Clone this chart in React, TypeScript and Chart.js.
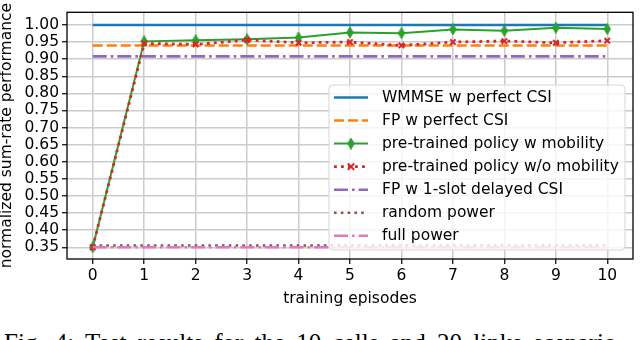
import React, { useEffect, useRef } from "react";
import { Chart, registerables } from "chart.js";

Chart.register(...registerables);

// ---- data ----
const episodes = [0, 1, 2, 3, 4, 5, 6, 7, 8, 9, 10];
const xTicks = [0, 1, 2, 3, 4, 5, 6, 7, 8, 9, 10];
const yTicks = [0.35, 0.4, 0.45, 0.5, 0.55, 0.6, 0.65, 0.7, 0.75, 0.8, 0.85, 0.9, 0.95, 1.0];

const wmmsePerfect = [1.0, 1.0, 1.0, 1.0, 1.0, 1.0, 1.0, 1.0, 1.0, 1.0, 1.0];
const fpPerfect = [0.94, 0.94, 0.94, 0.94, 0.94, 0.94, 0.94, 0.94, 0.94, 0.94, 0.94];
const pretrainedMobility = [0.35, 0.952, 0.955, 0.958, 0.963, 0.978, 0.976, 0.987, 0.983, 0.992, 0.988];
const pretrainedNoMobility = [0.35, 0.946, 0.943, 0.956, 0.948, 0.95, 0.94, 0.95, 0.953, 0.948, 0.954];
const fpDelayed = [0.908, 0.908, 0.908, 0.908, 0.908, 0.908, 0.908, 0.908, 0.908, 0.908, 0.908];
const randomPower = [0.355, 0.355, 0.355, 0.355, 0.355, 0.355, 0.355, 0.355, 0.355, 0.355, 0.355];
const fullPower = [0.35, 0.35, 0.35, 0.35, 0.35, 0.35, 0.35, 0.35, 0.35, 0.35, 0.35];

const labels = [
  "WMMSE w perfect CSI",
  "FP w perfect CSI",
  "pre-trained policy w mobility",
  "pre-trained policy w/o mobility",
  "FP w 1-slot delayed CSI",
  "random power",
  "full power",
];

const FONT = "'DejaVu Sans', sans-serif";
const FS = 15.5;

function makeDiamond(color: string): HTMLCanvasElement {
  const c = document.createElement("canvas");
  c.width = 8;
  c.height = 12;
  const g = c.getContext("2d")!;
  g.beginPath();
  g.moveTo(4, 0.5);
  g.lineTo(7.2, 6);
  g.lineTo(4, 11.5);
  g.lineTo(0.8, 6);
  g.closePath();
  g.fillStyle = color;
  g.fill();
  g.lineWidth = 1;
  g.strokeStyle = color;
  g.stroke();
  return c;
}

const toXY = (arr: number[]) => arr.map((v, i) => ({ x: episodes[i], y: v }));

const framePlugin = {
  id: "frame",
  afterDatasetsDraw(chart: any) {
    const { ctx, chartArea: a } = chart;
    ctx.save();
    ctx.strokeStyle = "#000";
    ctx.lineWidth = 1.3;
    ctx.strokeRect(a.left, a.top, a.right - a.left, a.bottom - a.top);
    ctx.restore();
  },
};

const legendPlugin = {
  id: "mplLegend",
  afterDraw(chart: any) {
    const { ctx, chartArea: a } = chart;
    const w = 296;
    const h = 165;
    const x0 = a.right - 8 - w;
    const y0 = a.bottom - 9 - h;
    ctx.save();
    ctx.globalAlpha = 0.8;
    ctx.fillStyle = "#ffffff";
    ctx.beginPath();
    (ctx as any).roundRect(x0, y0, w, h, 4);
    ctx.fill();
    ctx.globalAlpha = 1;
    ctx.strokeStyle = "#d6d6d6";
    ctx.lineWidth = 1;
    ctx.stroke();
    const dsets = chart.data.datasets;
    const rowH = 23.05;
    for (let i = 0; i < dsets.length; i++) {
      const d = dsets[i];
      const cy = y0 + 12.5 + i * rowH;
      const lx0 = x0 + 5;
      const lx1 = x0 + 39;
      ctx.save();
      ctx.strokeStyle = d.borderColor;
      ctx.lineWidth = d.borderWidth;
      ctx.setLineDash(d.borderDash || []);
      ctx.beginPath();
      ctx.moveTo(lx0, cy);
      ctx.lineTo(lx1, cy);
      ctx.stroke();
      ctx.restore();
      const mx = (lx0 + lx1) / 2;
      if (d.pointStyle instanceof HTMLCanvasElement) {
        const img = d.pointStyle as HTMLCanvasElement;
        ctx.drawImage(img, mx - img.width / 2, cy - img.height / 2);
      } else if (d.pointStyle === "crossRot") {
        ctx.save();
        ctx.strokeStyle = d.borderColor;
        ctx.lineWidth = 2;
        const r = 3.2;
        ctx.beginPath();
        ctx.moveTo(mx - r, cy - r);
        ctx.lineTo(mx + r, cy + r);
        ctx.moveTo(mx - r, cy + r);
        ctx.lineTo(mx + r, cy - r);
        ctx.stroke();
        ctx.restore();
      }
      ctx.fillStyle = "#000";
      ctx.font = `${FS}px ${FONT}`;
      ctx.textBaseline = "middle";
      ctx.textAlign = "left";
      ctx.fillText(labels[i], x0 + 53, cy + 0.5);
    }
    ctx.restore();
  },
};

export default function App() {
  const ref = useRef<HTMLCanvasElement | null>(null);

  useEffect(() => {
    if (!ref.current) return;
    const diamond = makeDiamond("#2ca02c");
    const chart = new Chart(ref.current, {
      type: "line",
      data: {
        datasets: [
          {
            label: labels[0],
            data: toXY(wmmsePerfect),
            borderColor: "#1f77b4",
            borderWidth: 2.6,
            pointRadius: 0,
            order: 6,
          },
          {
            label: labels[1],
            data: toXY(fpPerfect),
            borderColor: "#ff7f0e",
            borderWidth: 2.6,
            borderDash: [10, 4],
            pointRadius: 0,
            order: 5,
          },
          {
            label: labels[2],
            data: toXY(pretrainedMobility),
            borderColor: "#2ca02c",
            borderWidth: 2,
            pointStyle: diamond,
            pointRadius: 5,
            order: 4,
          },
          {
            label: labels[3],
            data: toXY(pretrainedNoMobility),
            borderColor: "#d62728",
            backgroundColor: "#d62728",
            borderWidth: 2.8,
            borderDash: [2.8, 4.2],
            pointStyle: "crossRot",
            pointRadius: 3.8,
            pointBorderWidth: 2,
            order: 3,
          },
          {
            label: labels[4],
            data: toXY(fpDelayed),
            borderColor: "#9467bd",
            borderWidth: 2.6,
            borderDash: [14, 4, 2.6, 4],
            pointRadius: 0,
            order: 2,
          },
          {
            label: labels[5],
            data: toXY(randomPower),
            borderColor: "#8c564b",
            borderWidth: 2.6,
            borderDash: [2.6, 4.2],
            pointRadius: 0,
            order: 1,
          },
          {
            label: labels[6],
            data: toXY(fullPower),
            borderColor: "#e377c2",
            borderWidth: 2.6,
            borderDash: [14, 4, 2.6, 4],
            pointRadius: 0,
            order: 0,
          },
        ] as any,
      },
      options: {
        animation: false,
        responsive: false,
        devicePixelRatio: 1,
        layout: { padding: { left: 0, right: 3, top: 7, bottom: 2 } },
        plugins: {
          legend: { display: false },
          tooltip: { enabled: false },
        },
        elements: { line: { tension: 0 } },
        scales: {
          x: {
            type: "linear",
            min: -0.5,
            max: 10.5,
            afterFit: (s: any) => {
              s.height = 49;
            },
            afterBuildTicks: (s: any) => {
              s.ticks = xTicks.map((v) => ({ value: v }));
            },
            ticks: {
              font: { family: FONT, size: FS },
              color: "#000",
              padding: 3,
              maxRotation: 0,
              autoSkip: false,
              callback: (v: any) => String(v),
            },
            grid: {
              color: "#cccccc",
              lineWidth: 1.5,
              tickColor: "#000",
              tickLength: 5,
              tickWidth: 1.2,
            },
            border: { display: false },
            title: {
              display: true,
              text: "training episodes",
              font: { family: FONT, size: FS },
              color: "#000",
              padding: 0,
            },
          },
          y: {
            type: "linear",
            min: 0.3157,
            max: 1.037,
            afterFit: (s: any) => {
              s.width = 67;
            },
            afterBuildTicks: (s: any) => {
              s.ticks = yTicks.map((v) => ({ value: v }));
            },
            ticks: {
              font: { family: FONT, size: FS },
              color: "#000",
              padding: 3,
              autoSkip: false,
              callback: (v: any) => Number(v).toFixed(2),
            },
            grid: {
              color: "#cccccc",
              lineWidth: 1.5,
              tickColor: "#000",
              tickLength: 5,
              tickWidth: 1.2,
            },
            border: { display: false },
            title: {
              display: true,
              text: "normalized sum-rate performance",
              font: { family: FONT, size: FS },
              color: "#000",
              padding: { top: -2, bottom: 0 },
            },
          },
        },
      },
      plugins: [framePlugin, legendPlugin],
    });
    return () => chart.destroy();
  }, []);

  return (
    <div
      style={{
        position: "absolute",
        left: 0,
        top: 0,
        width: 640,
        height: 340,
        overflow: "hidden",
        background: "#fff",
      }}
    >
      <canvas ref={ref} width={640} height={310} style={{ display: "block", width: 640, height: 310 }} />
      <div
        style={{
          position: "absolute",
          left: 4,
          top: 330,
          fontFamily: "'Liberation Serif', 'Times New Roman', serif",
          fontSize: 25,
          lineHeight: "25px",
          whiteSpace: "nowrap",
          wordSpacing: 5,
          color: "#000",
        }}
      >
        Fig. 4: Test results for the 10 cells and 20 links scenario
      </div>
    </div>
  );
}
